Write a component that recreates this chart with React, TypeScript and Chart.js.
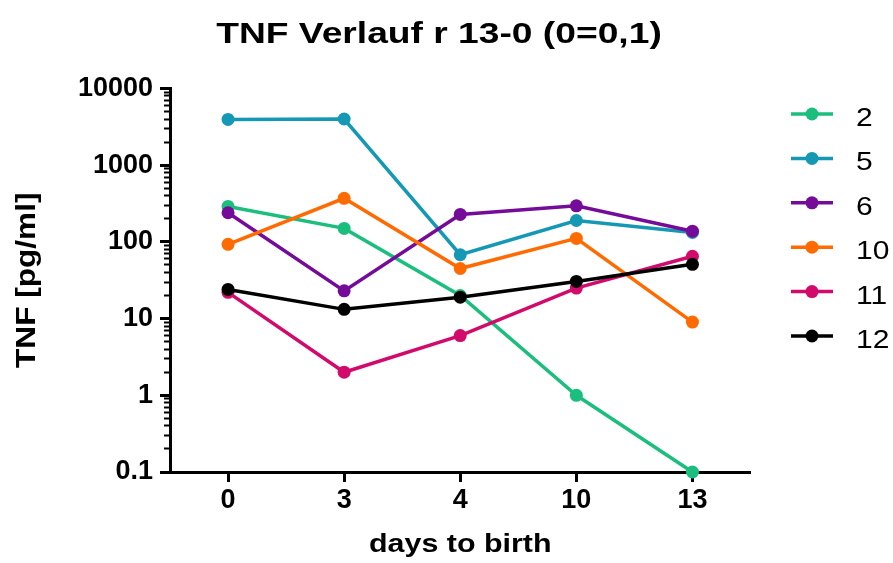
import React, { useEffect, useRef } from 'react';
import { Chart, registerables } from 'chart.js';

Chart.register(...registerables);

const days = ['0', '3', '4', '10', '13'];
const seriesNames = ['2', '5', '6', '10', '11', '12'];
const s2 = [290, 150, 20, 1, 0.1];
const s5 = [3950, 4000, 68, 190, 133];
const s6 = [240, 23, 228, 295, 138];
const s10 = [93, 370, 45, 111, 9];
const s11 = [22, 2, 6, 25, 65];
const s12 = [24, 13.2, 19, 30.5, 51];
const seriesValues = [s2, s5, s6, s10, s11, s12];
const seriesColors = ['#1BBE7D', '#1598B4', '#740C99', '#FF6B00', '#D20A6B', '#000000'];
const yTickValues = [0.1, 1, 10, 100, 1000, 10000];
const yTickLabels = ['0.1', '1', '10', '100', '1000', '10000'];
const minorMultipliers = [2, 3, 4, 5, 6, 7, 8, 9];
const chartTitle = 'TNF Verlauf r 13-0 (0=0,1)';
const xTitle = 'days to birth';
const yTitle = 'TNF [pg/ml]';

const FONT = '"Liberation Sans", Arial, Helvetica, sans-serif';

const minorTickValues: number[] = [];
for (let i = 0; i < yTickValues.length - 1; i++) {
  for (const m of minorMultipliers) minorTickValues.push(yTickValues[i] * m);
}

function drawStretched(
  ctx: CanvasRenderingContext2D,
  text: string,
  x: number,
  y: number,
  sx: number,
  font: string,
  rotate = 0,
  align: CanvasTextAlign = 'center'
) {
  ctx.save();
  ctx.translate(x, y);
  if (rotate) ctx.rotate(rotate);
  ctx.scale(sx, 1);
  ctx.font = font;
  ctx.textAlign = align;
  ctx.textBaseline = 'alphabetic';
  ctx.fillStyle = '#000';
  ctx.fillText(text, 0, 0);
  ctx.restore();
}

const decorPlugin = {
  id: 'decor',
  afterDraw(chart: any) {
    const ctx: CanvasRenderingContext2D = chart.ctx;
    const area = chart.chartArea;

    // titles
    drawStretched(ctx, chartTitle, 439, 43, 1.24, `bold 30px ${FONT}`);
    drawStretched(ctx, xTitle, (area.left + area.right) / 2, 552, 1.17, `bold 26px ${FONT}`);
    drawStretched(ctx, yTitle, 35, (area.top + area.bottom) / 2, 1.17, `bold 27px ${FONT}`, -Math.PI / 2);

    // legend
    ctx.save();
    seriesNames.forEach((name, i) => {
      const y = 114 + i * 44.4;
      ctx.strokeStyle = seriesColors[i];
      ctx.lineWidth = 3.5;
      ctx.beginPath();
      ctx.moveTo(791, y);
      ctx.lineTo(833, y);
      ctx.stroke();
      ctx.fillStyle = seriesColors[i];
      ctx.beginPath();
      ctx.arc(812, y, 6.5, 0, Math.PI * 2);
      ctx.fill();
      drawStretched(ctx, name, 856, y + 12, 1.2, `25px ${FONT}`, 0, 'left');
    });
    ctx.restore();
  },
};

export default function App() {
  const canvasRef = useRef<HTMLCanvasElement | null>(null);

  useEffect(() => {
    const canvas = canvasRef.current;
    if (!canvas) return;
    const chart = new Chart(canvas, {
      type: 'line',
      data: {
        labels: days,
        datasets: seriesNames.map((name, i) => ({
          label: name,
          data: seriesValues[i],
          borderColor: seriesColors[i],
          backgroundColor: seriesColors[i],
          pointBackgroundColor: seriesColors[i],
          pointBorderWidth: 0,
          pointRadius: 6.5,
          pointHoverRadius: 6.5,
          borderWidth: 3.5,
          tension: 0,
          fill: false,
          clip: false as any,
          order: -i,
        })),
      },
      options: {
        animation: false,
        responsive: true,
        maintainAspectRatio: false,
        layout: { padding: { top: 88.5, right: 142.5, left: 0, bottom: 0 } },
        plugins: {
          legend: { display: false },
          title: { display: false },
          tooltip: { enabled: false },
        },
        scales: {
          x: {
            type: 'category',
            offset: true,
            border: { display: true, color: '#000', width: 3 },
            grid: {
              display: true,
              drawOnChartArea: false,
              drawTicks: true,
              tickLength: 10,
              tickWidth: 3,
              tickColor: '#000',
              offset: false,
            },
            ticks: {
              color: '#000',
              padding: 2,
              font: { family: FONT, size: 27, weight: 'bold' },
              maxRotation: 0,
            },
            afterFit: (scale: any) => {
              scale.height = 91;
            },
          },
          yMinor: {
            type: 'logarithmic',
            position: 'left',
            weight: 0,
            min: 0.1,
            max: 10000,
            border: { display: false },
            grid: {
              display: true,
              drawOnChartArea: false,
              drawTicks: true,
              tickLength: 6,
              tickWidth: 2,
              tickColor: '#000',
            },
            ticks: { display: true, callback: () => '', padding: 0, font: { size: 1 } },
            afterBuildTicks: (scale: any) => {
              scale.ticks = minorTickValues.map((v) => ({ value: v }));
            },
            afterFit: (scale: any) => {
              scale.width = 0;
            },
          },
          y: {
            type: 'logarithmic',
            position: 'left',
            weight: 1,
            min: 0.1,
            max: 10000,
            border: { display: true, color: '#000', width: 3 },
            grid: {
              display: true,
              drawOnChartArea: false,
              drawTicks: true,
              tickLength: 10,
              tickWidth: 3,
              tickColor: '#000',
            },
            ticks: {
              color: '#000',
              padding: 7,
              font: { family: FONT, size: 27, weight: 'bold' },
              callback: (value: any) => {
                const idx = yTickValues.findIndex((t) => Math.abs(t - Number(value)) < 1e-9 * Math.max(1, t));
                return idx >= 0 ? yTickLabels[idx] : '';
              },
            },
            afterBuildTicks: (scale: any) => {
              scale.ticks = yTickValues.map((v) => ({ value: v, major: true }));
            },
            afterFit: (scale: any) => {
              scale.width = 170;
            },
          },
        },
      },
      plugins: [decorPlugin],
    });
    return () => chart.destroy();
  }, []);

  return (
    <div style={{ position: 'fixed', left: 0, top: 0, width: 893, height: 563, background: '#fff' }}>
      <canvas ref={canvasRef} />
    </div>
  );
}
